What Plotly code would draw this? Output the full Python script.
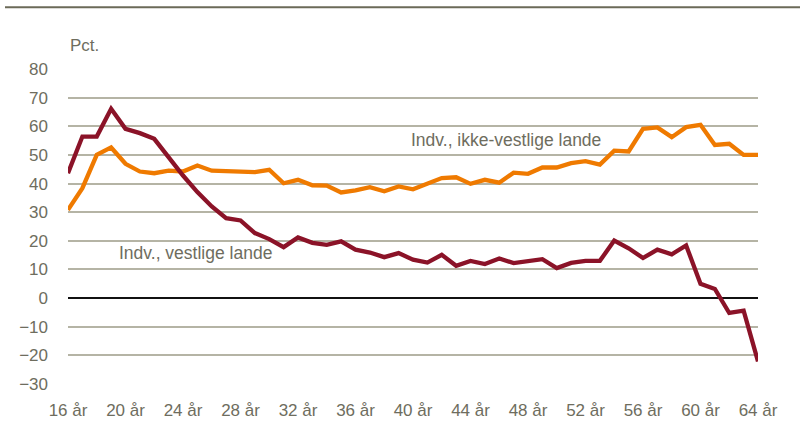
import plotly.graph_objects as go

ages = list(range(16, 65))
vestlige = [43.6, 56.4, 56.4, 66.1, 59.1, 57.6, 55.6, 48.9, 42.8, 37.0,
            32.0, 27.9, 27.1, 22.7, 20.6, 17.8, 21.2, 19.3, 18.6, 19.8,
            16.9, 15.9, 14.3, 15.7, 13.4, 12.4, 15.1, 11.3, 13.0, 11.9,
            13.8, 12.2, 12.8, 13.6, 10.5, 12.3, 13.0, 13.0, 20.1, 17.4,
            14.0, 16.9, 15.3, 18.4, 5.0, 3.2, -5.2, -4.4, -22.1]
ikke_vestlige = [30.8, 38.4, 50.0, 52.6, 46.9, 44.2, 43.6, 44.5, 44.2, 46.3,
                 44.5, 44.4, 44.0, 44.0, 44.8, 40.1, 41.3, 39.4, 39.3, 36.9,
                 37.6, 38.7, 37.3, 39.0, 38.0, 39.9, 41.9, 42.2, 39.9, 41.3,
                 40.3, 43.8, 43.4, 45.6, 45.6, 47.1, 47.8, 46.6, 51.5, 51.2,
                 59.1, 59.6, 56.2, 59.7, 60.5, 53.5, 53.9, 50.0, 50.0]
x_tickvals = [16, 20, 24, 28, 32, 36, 40, 44, 48, 52, 56, 60, 64]
x_ticktext = ["16 år", "20 år", "24 år", "28 år", "32 år", "36 år", "40 år",
              "44 år", "48 år", "52 år", "56 år", "60 år", "64 år"]
y_tickvals = [-30, -20, -10, 0, 10, 20, 30, 40, 50, 60, 70, 80]

FONT = "Liberation Sans, Arial, sans-serif"
TXT = "#6e6d5e"

fig = go.Figure()
fig.add_trace(go.Scatter(x=ages, y=ikke_vestlige, mode="lines",
                         line=dict(color="#ef7a00", width=4.3),
                         name="Indv., ikke-vestlige lande"))
fig.add_trace(go.Scatter(x=ages, y=vestlige, mode="lines",
                         line=dict(color="#8b1328", width=4.3),
                         name="Indv., vestlige lande"))

fig.update_layout(
    width=802, height=430,
    margin=dict(l=68, r=44, t=69, b=46),
    paper_bgcolor="white", plot_bgcolor="white",
    showlegend=False,
    font=dict(family=FONT, size=17, color=TXT),
    xaxis=dict(range=[16, 64], tickvals=x_tickvals, ticktext=x_ticktext,
               showgrid=False, zeroline=False, showline=False,
               ticks="", ticklabelstandoff=14, automargin=False,
               tickfont=dict(family=FONT, size=17, color=TXT)),
    yaxis=dict(range=[-30, 80], tickvals=y_tickvals,
               showgrid=True, gridcolor="#b5b4a5", gridwidth=1.5,
               zeroline=True, zerolinecolor="#111111", zerolinewidth=1.5,
               showline=False, ticks="", ticklabelstandoff=19, automargin=False,
               tickfont=dict(family=FONT, size=17, color=TXT)),
    annotations=[
        dict(text="Pct.", xref="paper", yref="paper", x=0, y=1,
             xanchor="left", yanchor="middle", xshift=0, yshift=24,
             showarrow=False, font=dict(family=FONT, size=17, color=TXT)),
        dict(text="Indv., ikke-vestlige lande", x=46.5, y=55.3,
             xanchor="center", yanchor="middle", showarrow=False,
             font=dict(family=FONT, size=17.5, color=TXT)),
        dict(text="Indv., vestlige lande", x=24.9, y=15.9,
             xanchor="center", yanchor="middle", showarrow=False,
             font=dict(family=FONT, size=17.5, color=TXT)),
    ],
    shapes=[
        dict(type="line", xref="paper", yref="paper",
             x0=(5 - 68) / 690, x1=(800 - 68) / 690,
             y0=(384 - 7.3) / 315, y1=(384 - 7.3) / 315,
             line=dict(color="#6b6a58", width=2)),
    ],
)

fig.write_html("out.html", config={"displayModeBar": False},
               post_script="document.body.style.margin='0';")
